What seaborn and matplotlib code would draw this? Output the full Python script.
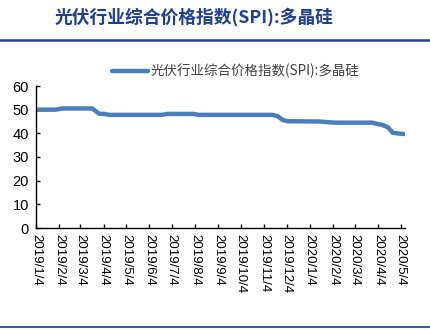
import matplotlib
matplotlib.use("Agg")
import matplotlib.pyplot as plt
import matplotlib.dates as mdates
from matplotlib.lines import Line2D
import seaborn as sns
import pandas as pd

dates = ["2019-01-04", "2019-01-30", "2019-02-08", "2019-03-20", "2019-03-29",
         "2019-04-05", "2019-04-12", "2019-06-21", "2019-06-28", "2019-08-02",
         "2019-08-09", "2019-11-15", "2019-11-22", "2019-11-29", "2019-12-06",
         "2020-01-17", "2020-02-07", "2020-03-27", "2020-04-03", "2020-04-10",
         "2020-04-17", "2020-04-24", "2020-05-08"]
values = [50.0, 50.0, 50.5, 50.5, 48.3,
          48.2, 47.8, 47.8, 48.2, 48.2,
          47.8, 47.8, 47.3, 45.6, 45.1,
          45.0, 44.5, 44.5, 44.0, 43.5,
          42.6, 40.2, 39.7]
tick_dates = ["2019-01-04", "2019-02-04", "2019-03-04", "2019-04-04", "2019-05-04",
              "2019-06-04", "2019-07-04", "2019-08-04", "2019-09-04", "2019-10-04",
              "2019-11-04", "2019-12-04", "2020-01-04", "2020-02-04", "2020-03-04",
              "2020-04-04", "2020-05-04"]
tick_labels = ["2019/1/4", "2019/2/4", "2019/3/4", "2019/4/4", "2019/5/4",
               "2019/6/4", "2019/7/4", "2019/8/4", "2019/9/4", "2019/10/4",
               "2019/11/4", "2019/12/4", "2020/1/4", "2020/2/4", "2020/3/4",
               "2020/4/4", "2020/5/4"]
y_ticks = [0, 10, 20, 30, 40, 50, 60]
series_name = "光伏行业综合价格指数(SPI):多晶硅"
title = "光伏行业综合价格指数(SPI):多晶硅"

sns.set_theme(style="white")
plt.rcParams['font.family'] = ['Liberation Sans', 'Noto Sans CJK SC', 'DejaVu Sans']

df = pd.DataFrame({"date": pd.to_datetime(dates), "value": values})

fig = plt.figure(figsize=(4.3, 3.32), dpi=100)
ax = fig.add_axes([36/430, 1-228/332, (405-36)/430, (228-86)/332])

line_color = "#4A7EBB"
sns.lineplot(data=df, x="date", y="value", ax=ax, color=line_color, linewidth=3.2, legend=False)

ax.set_xlim(pd.Timestamp("2019-01-04"), pd.Timestamp("2020-05-10"))
ax.set_ylim(0, 60)
ax.set_yticks(y_ticks)
ax.set_yticklabels([str(v) for v in y_ticks], fontsize=10.5, color="black")
ax.set_xticks(pd.to_datetime(tick_dates))
ax.set_xticklabels(tick_labels, rotation=270, fontsize=9.5, color="black")
ax.set_xlabel("")
ax.set_ylabel("")
for s in ["top", "right"]:
    ax.spines[s].set_visible(False)
for s in ["left", "bottom"]:
    ax.spines[s].set_color("black")
    ax.spines[s].set_linewidth(1.0)
ax.tick_params(axis="both", direction="in", length=3, width=1, color="black", pad=3)
ax.tick_params(axis="x", pad=4, bottom=True)
ax.tick_params(axis="y", left=True, pad=5)
ax.grid(False)

# legend
handle = Line2D([0], [0], color=line_color, linewidth=3.2)
fig.legend([handle], [series_name], loc="center left", bbox_to_anchor=(112/430, 1-71/332),
           frameon=False, borderpad=0, borderaxespad=0, handlelength=2.7, handletextpad=0.15,
           labelcolor="#404040", prop={'family': ['Noto Sans CJK SC', 'DejaVu Sans'], 'size': 9.7})

# title
fig.text(194/430, 1-17/332, title, ha="center", va="center", fontsize=12.8,
         fontweight="bold", color="#1F3F8F",
         family=['Noto Sans CJK SC', 'DejaVu Sans'])
fig.add_artist(Line2D([0, 1], [1-40/332, 1-40/332], color="#1F3F8F", linewidth=1.8))
fig.add_artist(Line2D([0, 1], [1-327/332, 1-327/332], color="#3F5FA0", linewidth=1.5))

fig.savefig("out.png", dpi=100)
